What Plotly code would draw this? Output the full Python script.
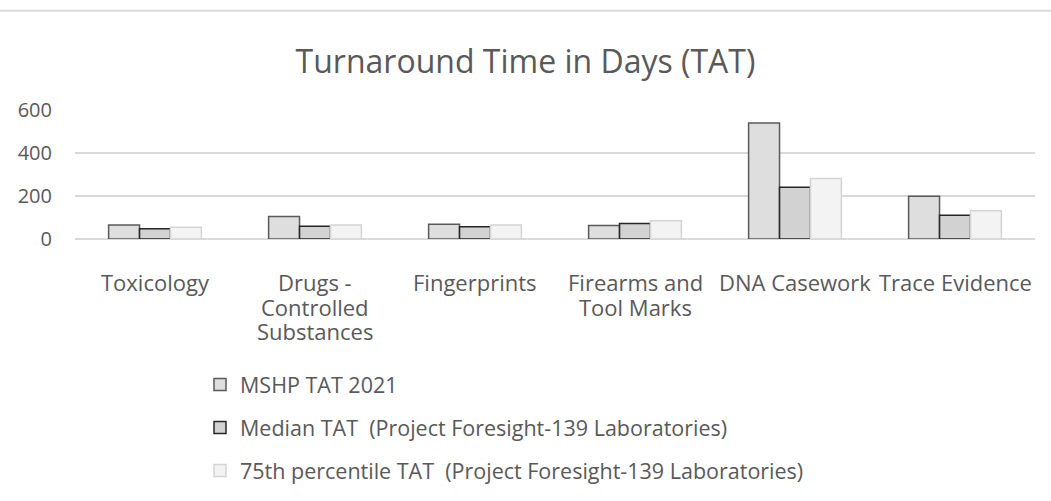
import plotly.graph_objects as go

categories = [
    "Toxicology",
    "Drugs - Controlled Substances",
    "Fingerprints",
    "Firearms and Tool Marks",
    "DNA Casework",
    "Trace Evidence",
]
# wrapped label lines shown under each category
category_lines = [
    ["Toxicology"],
    ["Drugs -", "Controlled", "Substances"],
    ["Fingerprints"],
    ["Firearms and", "Tool Marks"],
    ["DNA Casework"],
    ["Trace Evidence"],
]
mshp_2021 = [65, 105, 69, 63, 539, 199]
median_tat = [48, 59, 57, 72, 241, 111]
p75_tat = [55, 65, 65, 85, 281, 131]

series_names = [
    "MSHP TAT 2021",
    "Median TAT  (Project Foresight-139 Laboratories)",
    "75th percentile TAT  (Project Foresight-139 Laboratories)",
]
series_values = [mshp_2021, median_tat, p75_tat]
fills = ["#dedede", "#d2d2d2", "#f3f3f3"]
borders = ["#5a5a5a", "#262626", "#d4d4d4"]

FONT = "Open Sans"
TEXT = "#595959"
LABEL_SIZE = 22

fig = go.Figure()
for i, (name, vals) in enumerate(zip(series_names, series_values)):
    fig.add_trace(go.Bar(
        x=categories, y=vals, name=name, legendgroup=f"g{i}",
        marker=dict(color=fills[i], line=dict(color=borders[i], width=1.5)),
    ))

# category labels, one annotation per line for tighter line spacing
for cat, lines in zip(categories, category_lines):
    for j, line in enumerate(lines):
        fig.add_annotation(x=cat, y=0, xref="x", yref="y", text=line,
                           showarrow=False, xanchor="center", yanchor="middle",
                           yshift=-(43 + 24.5 * j),
                           font=dict(family=FONT, size=LABEL_SIZE, color=TEXT))

fig.update_layout(
    width=1051, height=501,
    margin=dict(l=75, r=16, t=110, b=261),
    paper_bgcolor="white", plot_bgcolor="white",
    barmode="group", bargap=0.42, bargroupgap=0,
    font=dict(family=FONT, size=LABEL_SIZE, color=TEXT),
    title=dict(text="Turnaround Time in Days (TAT)", x=0.5, xanchor="center",
               y=1 - 62 / 501, yanchor="middle",
               font=dict(family=FONT, size=32, color=TEXT)),
    showlegend=True,
    legend=dict(orientation="v", x=(200 - 75) / 960, xanchor="left",
                y=-(364 - 240) / 130, yanchor="top",
                traceorder="grouped", tracegroupgap=12,
                font=dict(family=FONT, size=21.5, color=TEXT),
                itemwidth=30, bgcolor="rgba(0,0,0,0)"),
    xaxis=dict(showgrid=False, showline=False, ticks="", showticklabels=False),
    yaxis=dict(range=[0, 600], dtick=200, showgrid=True, gridcolor="#d9d9d9",
               gridwidth=1.5, zeroline=True, zerolinecolor="#d9d9d9", zerolinewidth=1.5,
               showline=False, ticks="", tickfont=dict(size=20),
               ticklabelstandoff=22),
)

# thin frame line across the top of the chart area
fig.add_shape(type="line", xref="paper", yref="paper",
              x0=-75 / 960, x1=(1051 - 75) / 960,
              y0=(240 - 10) / 130, y1=(240 - 10) / 130,
              line=dict(color="#d9d9d9", width=2))

fig.write_html("out.html")
